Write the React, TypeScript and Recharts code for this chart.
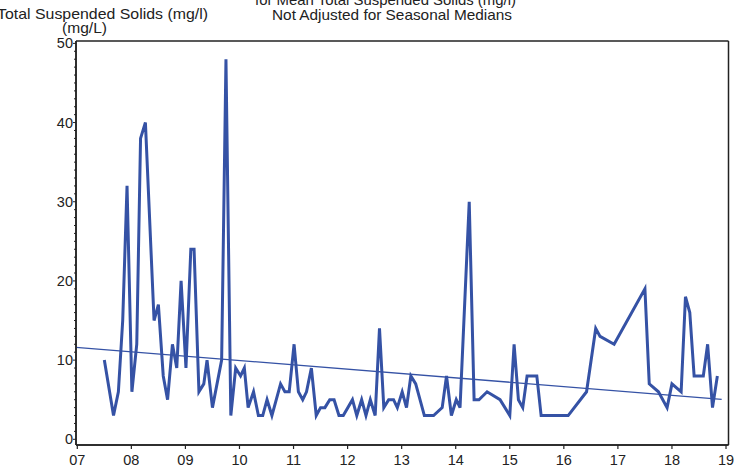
import React from 'react';
import { ComposedChart, Line, XAxis, YAxis, CartesianGrid } from 'recharts';

const years = [
  7.50, 7.67, 7.76, 7.84, 7.92, 8.01, 8.10, 8.17, 8.26, 8.42, 8.50, 8.59, 8.67, 8.76, 8.84, 8.92,
  9.01, 9.10, 9.16, 9.25, 9.34, 9.40, 9.50, 9.67, 9.75, 9.84, 9.93, 10.02, 10.09, 10.16, 10.26, 10.35,
  10.43, 10.51, 10.60, 10.76, 10.84, 10.92, 11.01, 11.09, 11.17, 11.24, 11.33, 11.42, 11.50, 11.58,
  11.67, 11.75, 11.84, 11.92, 12.09, 12.17, 12.26, 12.34, 12.42, 12.51, 12.59, 12.67, 12.76, 12.85,
  12.92, 13.01, 13.09, 13.17, 13.26, 13.42, 13.59, 13.75, 13.83, 13.92, 14.01, 14.08, 14.25, 14.34,
  14.43, 14.58, 14.82, 15.00, 15.08, 15.16, 15.24, 15.32, 15.50, 15.58, 16.08, 16.42, 16.59, 16.67,
  16.93, 17.50, 17.58, 17.75, 17.91, 18.00, 18.17, 18.25, 18.33, 18.41, 18.58, 18.66, 18.75, 18.84,
];

const tss = [
  10, 3, 6, 15, 32, 6, 12, 38, 40, 15, 17, 8, 5, 12, 9, 20,
  9, 24, 24, 6, 7, 10, 4, 10, 48, 3, 9, 8, 9, 4, 6, 3,
  3, 5, 3, 7, 6, 6, 12, 6, 5, 6, 9, 3, 4, 4,
  5, 5, 3, 3, 5, 3, 5, 3, 5, 3, 14, 4, 5, 5,
  4, 6, 4, 8, 7, 3, 3, 4, 8, 3, 5, 4, 30, 5,
  5, 6, 5, 3, 12, 5, 4, 8, 8, 3, 3, 6, 14, 13,
  12, 19, 7, 6, 4, 7, 6, 18, 16, 8, 8, 12, 4, 8,
];

const trendYears = [6.976, 18.92];
const trendValues = [11.62, 5.05];

const xTicks = [7, 8, 9, 10, 11, 12, 13, 14, 15, 16, 17, 18, 19];
const yTicks = Array.from({ length: 51 }, (_, i) => i);

const titleLine1 = 'for Mean Total Suspended Solids (mg/l)';
const titleLine2 = 'Not Adjusted for Seasonal Medians';
const yLabel1 = 'Total Suspended Solids (mg/l)';
const yLabel2 = '(mg/L)';

const series = years.map((year, i) => ({ year, value: tss[i] }));
const trend = trendYears.map((year, i) => ({ year, value: trendValues[i] }));

const FONT = '"Liberation Sans", Arial, sans-serif';
const TEXT = '#222';
const BLUE = '#3552A5';
const X_DOMAIN: [number, number] = [6.976, 19.046];
const Y_DOMAIN: [number, number] = [-0.72, 50.3];

const XTick = (props: any) => {
  const { x, y, payload } = props;
  return (
    <g>
      <line x1={x} y1={y} x2={x} y2={y + 4} stroke={TEXT} strokeWidth={1.2} />
      <text x={x} y={y + 20} textAnchor="middle" fontSize={14.5} fontFamily={FONT} fill={TEXT}>
        {String(payload.value).padStart(2, '0')}
      </text>
    </g>
  );
};

const YTick = (props: any) => {
  const { x, y, payload } = props;
  const major = payload.value % 10 === 0;
  return (
    <g>
      <line x1={x - (major ? 3 : 2)} y1={y} x2={x} y2={y} stroke={TEXT} strokeWidth={1} />
      {major && (
        <text x={x - 3} y={y + 5} textAnchor="end" fontSize={14.5} fontFamily={FONT} fill={TEXT}>
          {payload.value}
        </text>
      )}
    </g>
  );
};

// frame edges taken from the chart's own plot-area offset
const frameRows = (p: any) => [p.offset.top, p.offset.top + p.offset.height];
const frameCols = (p: any) => [p.offset.left, p.offset.left + p.offset.width];

export default function App() {
  return (
    <div style={{ position: 'absolute', left: 0, top: 0, width: 735, height: 468, background: '#fff' }}>
      <ComposedChart
        width={735}
        height={468}
        data={series}
        margin={{ top: 41, right: 6.5, bottom: 3, left: 36 }}
      >
        <CartesianGrid
          xAxisId="b"
          yAxisId="l"
          horizontalCoordinatesGenerator={frameRows}
          verticalCoordinatesGenerator={frameCols}
          stroke={TEXT}
          strokeWidth={1.5}
          strokeDasharray=""
          fill="none"
        />
        <XAxis
          xAxisId="b"
          type="number"
          dataKey="year"
          domain={X_DOMAIN}
          allowDataOverflow
          ticks={xTicks}
          interval={0}
          height={20}
          tickSize={0}
          tickMargin={0}
          tick={<XTick />}
          axisLine={{ stroke: TEXT, strokeWidth: 1.5 }}
          tickLine={false}
        />
        <YAxis
          yAxisId="l"
          type="number"
          domain={Y_DOMAIN}
          allowDataOverflow
          ticks={yTicks}
          interval={0}
          width={40}
          tickSize={0}
          tickMargin={0}
          tick={<YTick />}
          axisLine={{ stroke: TEXT, strokeWidth: 1.5 }}
          tickLine={false}
        />
        <Line
          xAxisId="b"
          yAxisId="l"
          data={trend}
          dataKey="value"
          type="linear"
          stroke={BLUE}
          strokeWidth={1.3}
          dot={false}
          activeDot={false}
          isAnimationActive={false}
        />
        <Line
          xAxisId="b"
          yAxisId="l"
          data={series}
          dataKey="value"
          type="linear"
          stroke={BLUE}
          strokeWidth={3}
          dot={false}
          activeDot={false}
          isAnimationActive={false}
        />
      </ComposedChart>
      <svg
        width={735}
        height={468}
        style={{ position: 'absolute', left: 0, top: 0, pointerEvents: 'none' }}
      >
        <g fontFamily={FONT} fontSize={15} fill={TEXT}>
          <text x={255} y={5} textLength={261} lengthAdjust="spacingAndGlyphs">{titleLine1}</text>
          <text x={272} y={20} textLength={240} lengthAdjust="spacingAndGlyphs">{titleLine2}</text>
          <text x={-3} y={18.5} textLength={211} lengthAdjust="spacingAndGlyphs">{yLabel1}</text>
          <text x={62} y={33} textLength={45} lengthAdjust="spacingAndGlyphs">{yLabel2}</text>
        </g>
      </svg>
    </div>
  );
}
